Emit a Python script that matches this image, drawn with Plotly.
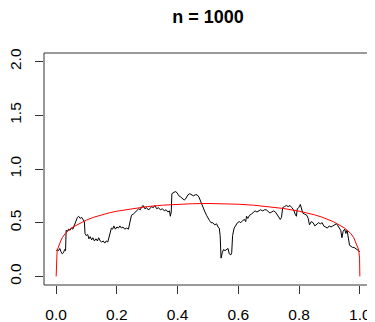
import plotly.graph_objects as go

black_x = [0.000,0.004,0.008,0.012,0.016,0.020,0.024,0.028,0.031,0.033,0.037,0.041,0.046,0.050,0.055,0.059,0.062,0.066,0.070,0.074,
           0.079,0.084,0.089,0.093,0.095,0.099,0.104,0.108,0.112,0.117,0.121,0.126,0.131,0.136,0.140,0.145,0.150,0.155,0.160,0.165,
           0.170,0.174,0.178,0.182,0.186,0.190,0.195,0.200,0.205,0.210,0.215,0.220,0.226,0.232,0.238,0.243,0.248,0.254,0.260,0.266,
           0.272,0.277,0.282,0.287,0.292,0.298,0.303,0.309,0.314,0.320,0.325,0.331,0.337,0.343,0.350,0.356,0.362,0.368,0.373,0.376,
           0.379,0.381,0.386,0.392,0.398,0.404,0.410,0.416,0.422,0.428,0.434,0.440,0.446,0.452,0.458,0.464,0.470,0.475,0.480,0.485,
           0.490,0.495,0.500,0.505,0.510,0.516,0.522,0.528,0.533,0.537,0.540,0.543,0.547,0.551,0.556,0.561,0.566,0.570,0.575,0.578,
           0.581,0.586,0.591,0.597,0.603,0.608,0.614,0.620,0.624,0.627,0.631,0.637,0.643,0.649,0.655,0.661,0.667,0.673,0.680,0.686,
           0.692,0.698,0.704,0.710,0.716,0.722,0.728,0.734,0.738,0.742,0.746,0.752,0.758,0.764,0.770,0.776,0.782,0.787,0.791,0.794,
           0.799,0.804,0.808,0.812,0.818,0.825,0.830,0.834,0.840,0.846,0.852,0.858,0.864,0.870,0.876,0.881,0.887,0.893,0.899,0.905,
           0.911,0.917,0.923,0.928,0.933,0.937,0.941,0.945,0.950,0.954,0.958,0.962,0.966,0.971,0.976,0.981,0.986,0.991,0.996,1.000]
black_y = [0.24,0.25,0.24,0.26,0.23,0.21,0.22,0.25,0.24,0.43,0.42,0.44,0.43,0.45,0.44,0.47,0.51,0.53,0.55,0.56,
           0.54,0.55,0.52,0.51,0.40,0.38,0.39,0.35,0.37,0.34,0.36,0.33,0.35,0.33,0.36,0.33,0.32,0.33,0.31,0.33,
           0.32,0.36,0.42,0.45,0.44,0.47,0.44,0.46,0.45,0.47,0.45,0.46,0.44,0.45,0.44,0.50,0.57,0.58,0.60,0.61,
           0.63,0.62,0.65,0.66,0.63,0.64,0.62,0.63,0.65,0.64,0.66,0.63,0.64,0.62,0.63,0.61,0.62,0.60,0.61,0.56,
           0.60,0.77,0.78,0.79,0.78,0.75,0.74,0.72,0.71,0.73,0.76,0.77,0.76,0.75,0.76,0.76,0.74,0.70,0.66,0.63,
           0.60,0.57,0.54,0.52,0.50,0.50,0.48,0.49,0.46,0.45,0.38,0.17,0.22,0.25,0.24,0.25,0.26,0.21,0.20,0.22,
           0.38,0.45,0.48,0.50,0.51,0.50,0.52,0.53,0.51,0.56,0.54,0.57,0.58,0.60,0.61,0.60,0.61,0.62,0.61,0.62,
           0.62,0.60,0.59,0.60,0.61,0.60,0.57,0.55,0.53,0.55,0.64,0.65,0.66,0.65,0.66,0.64,0.62,0.58,0.56,0.63,
           0.64,0.67,0.63,0.59,0.58,0.57,0.54,0.48,0.51,0.50,0.47,0.49,0.50,0.49,0.50,0.47,0.46,0.45,0.47,0.46,
           0.47,0.48,0.49,0.47,0.44,0.43,0.36,0.42,0.44,0.40,0.43,0.36,0.29,0.28,0.27,0.27,0.26,0.25,0.24,0.23]

# Red bound curve
red_x = [0.0,0.001,0.003,0.005,0.0075,0.01,0.015,0.02,0.03,0.04,0.05,0.0625,0.075,0.0875,0.1,0.125,0.15,0.175,0.2,0.25,0.3,0.35,0.4,0.45,0.5,
         0.55,0.6,0.65,0.7,0.75,0.8,0.825,0.85,0.875,0.9,0.9125,0.925,0.9375,0.95,0.96,0.97,0.98,0.985,0.99,0.9925,0.995,0.997,0.999,1.0]
red_y = [0.0,0.17,0.225,0.255,0.28,0.30,0.33,0.36,0.40,0.425,0.45,0.47,0.49,0.51,0.525,0.552,0.574,0.592,0.607,0.632,0.650,0.663,0.672,0.677,0.679,
         0.677,0.672,0.663,0.650,0.632,0.607,0.592,0.574,0.552,0.525,0.51,0.49,0.47,0.45,0.425,0.40,0.36,0.33,0.30,0.28,0.255,0.225,0.17,0.0]

x_ticks = [0.0, 0.2, 0.4, 0.6, 0.8, 1.0]
x_tick_labels = ["0.0", "0.2", "0.4", "0.6", "0.8", "1.0"]
y_ticks = [0.0, 0.5, 1.0, 1.5, 2.0]
y_tick_labels = ["0.0", "0.5", "1.0", "1.5", "2.0"]
title_text = "n = 1000"

FONT = "Liberation Sans, Arial, Helvetica, sans-serif"

# The page body has an 8px default margin; size the figure so it fits the 375x322 window.
W, H = 367, 314

fig = go.Figure()
fig.add_trace(go.Scatter(x=black_x, y=black_y, mode="lines",
                         line=dict(color="black", width=1), showlegend=False, hoverinfo="skip"))
fig.add_trace(go.Scatter(x=red_x, y=red_y, mode="lines",
                         line=dict(color="red", width=1), showlegend=False, hoverinfo="skip"))

fig.update_layout(
    width=W, height=H,
    margin=dict(l=36, r=3, t=45, b=37, autoexpand=False),
    paper_bgcolor="white", plot_bgcolor="white",
    font=dict(family=FONT, size=15, color="black"),
    title=dict(text="<b>" + title_text + "</b>", x=200 / W, xanchor="center",
               y=1 - 8.5 / H, yanchor="middle", font=dict(size=18, family=FONT, color="black")),
    xaxis=dict(range=[-0.04, 1.04], tickvals=x_ticks, ticktext=x_tick_labels, automargin=False,
               ticks="outside", ticklen=8, tickwidth=1, tickcolor="#333",
               showgrid=False, zeroline=False, showline=False, ticklabelstandoff=7,
               tickfont=dict(size=15.5, family=FONT, color="black")),
    yaxis=dict(range=[-0.08, 2.08], tickvals=y_ticks, ticktext=y_tick_labels, automargin=False,
               ticks="outside", ticklen=8, tickwidth=1, tickcolor="#333", tickangle=-90,
               showgrid=False, zeroline=False, showline=False, ticklabelstandoff=8,
               tickfont=dict(size=15.5, family=FONT, color="black")),
    shapes=[dict(type="rect", xref="paper", yref="paper", x0=0, y0=0, x1=1, y1=1,
                 line=dict(color="#333", width=1), fillcolor="rgba(0,0,0,0)")],
)

fig.write_html("out.html")
